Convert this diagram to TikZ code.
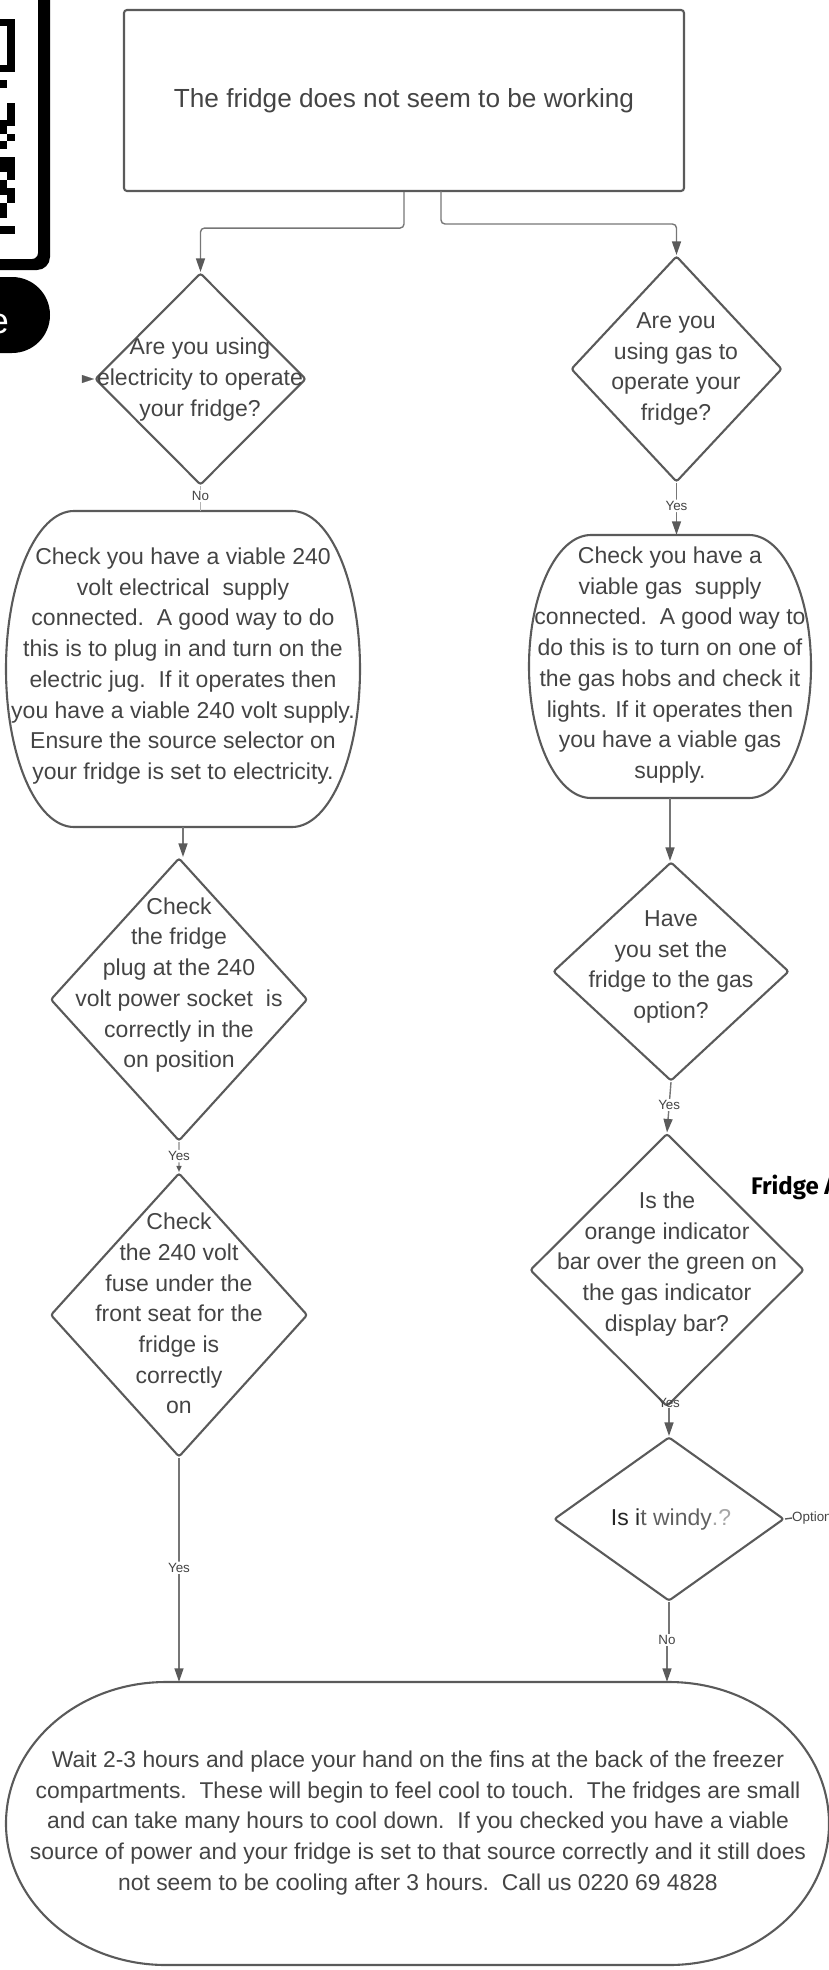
\documentclass[tikz,border=0pt]{standalone}
\usepackage{fontspec}
\setmainfont{Liberation Sans}
\newfontfamily\fridgefont{Fira Sans}
\usetikzlibrary{shapes.geometric,arrows.meta,calc}
\definecolor{shapeline}{HTML}{5A5A5A}
\definecolor{connline}{HTML}{767676}
\definecolor{bodytext}{HTML}{444444}
\tikzset{
  shapebox/.style={draw=shapeline,line width=2.1pt,rounded corners=3pt,inner sep=0pt},
  dia/.style={diamond,draw=shapeline,line width=2.1pt,rounded corners=2.5pt,inner sep=0pt},
  body/.style={text=bodytext,align=center,inner sep=0pt,font=\fontsize{23}{30.7}\selectfont},
  lab/.style={text=bodytext,fill=white,inner sep=1.5pt,font=\fontsize{13.4}{15}\selectfont},
  conn/.style={draw=connline,line width=1.4pt,rounded corners=4pt,-{Triangle[length=13.5pt,width=9pt,color=shapeline]}},
  plainconn/.style={draw=connline,line width=1.4pt},
  ink/.style={fill=black,draw=none},
}
\newcommand{\oblong}[6]{%
  \pgfmathsetmacro{\xl}{#2}\pgfmathsetmacro{\yt}{#3}\pgfmathsetmacro{\xr}{#4}\pgfmathsetmacro{\yb}{#5}\pgfmathsetmacro{\rx}{#6}%
  \pgfmathsetmacro{\ym}{(\yt+\yb)/2}\pgfmathsetmacro{\xc}{(\xl+\xr)/2}%
  \pgfmathsetmacro{\kx}{0.4477*\rx}\pgfmathsetmacro{\ky}{0.4477*(\yb-\yt)/2}%
  \node[minimum width={(\xr-\xl)*1pt},minimum height={(\yb-\yt)*1pt},inner sep=0pt] (#1) at (\xc,\ym) {};
  \draw[draw=shapeline,line width=2.1pt]
    ({\xl+\rx},\yt) -- ({\xr-\rx},\yt)
    .. controls ({\xr-\kx},\yt) and (\xr,{\yt+\ky}) .. (\xr,\ym)
    .. controls (\xr,{\yb-\ky}) and ({\xr-\kx},\yb) .. ({\xr-\rx},\yb)
    -- ({\xl+\rx},\yb)
    .. controls ({\xl+\kx},\yb) and (\xl,{\yb-\ky}) .. (\xl,\ym)
    .. controls (\xl,{\yt+\ky}) and ({\xl+\kx},\yt) .. ({\xl+\rx},\yt) -- cycle;
}
\begin{document}
\begin{tikzpicture}[x=1pt,y=-1pt]
\useasboundingbox (0,0) rectangle (829,1970);
\clip (0,0) rectangle (829,1970);

% cut-off QR card
\fill[ink,even odd rule,rounded corners=0pt]
  (-20,-20) [rounded corners=13pt] -- (50,-20) -- (50,270) -- (-20,270) [sharp corners] -- cycle
  (-30,-10) [rounded corners=6pt] -- (38,-10) -- (38,259) -- (-30,259) [sharp corners] -- cycle;
\fill[white] (-30,-10) rectangle (38,-20);
\fill[ink] (38,-20) rectangle (50,-1);
\begin{scope}[ink]
  \fill (0,19) rectangle (15,72);
  \fill[white] (0,26) rectangle (7,65);
  \fill (0,80) rectangle (7,88);
  \fill (7,103) rectangle (15,126);
  \fill (0,120) rectangle (15,126);
  \fill (0,126) rectangle (7,134);
  \fill (7,134) rectangle (15,141);
  \fill (0,141) rectangle (7,149);
  \fill (0,157) rectangle (15,172);
  \fill (7,172) rectangle (15,180);
  \fill (0,180) rectangle (7,188);
  \fill (7,188) rectangle (15,203);
  \fill (0,188) rectangle (7,195);
  \fill (0,203) rectangle (7,218);
  \fill (0,226) rectangle (15,234);
\end{scope}
\fill[ink,rounded corners=37.9pt] (-60,277) rectangle (50,353);
\node[text=white,inner sep=0pt,font=\fontsize{36}{36}\selectfont] (cardword) at (-1,324) {e};

% shapes
\node[shapebox,minimum width=560pt,minimum height=181pt] (top) at (404,100.5) {};
\node[body,font=\fontsize{26.2}{30.7}\selectfont] (toptext) at (404,101) {The fridge does not seem to be working};

\node[dia,minimum width=211pt,minimum height=212pt] (dElec) at (200.5,379) {};
\node[dia,minimum width=211pt,minimum height=226pt] (dGas) at (676.5,369) {};
\oblong{bElec}{6}{511}{360}{827}{68}
\oblong{bGas}{529}{535}{811}{798}{62}
\node[dia,minimum width=257pt,minimum height=283pt] (dPlug) at (179,999.5) {};
\node[dia,minimum width=257pt,minimum height=284pt] (dFuse) at (179,1315) {};
\node[dia,minimum width=236pt,minimum height=219pt] (dOpt) at (671,971.5) {};
\node[dia,minimum width=274pt,minimum height=273pt] (dBar) at (667,1270) {};
\node[dia,minimum width=230pt,minimum height=164pt] (dWind) at (669,1519) {};
\oblong{bEnd}{6}{1682}{829}{1965}{160}

% texts
\node[body] (tElec) at (200,379.5) {Are you using\\electricity to operate\\your fridge?};
\node[body] (tGas) at (676,369) {Are you\\using gas to\\operate your\\fridge?};
\node[body] (tbElec) at (183,666) {Check you have a viable 240\\volt electrical\ \ supply\\connected.\ \ A good way to do\\this is to plug in and turn on the\\electric jug.\ \ If it operates then\\you have a viable 240 volt supply.\\Ensure the source selector on\\your fridge is set to electricity.};
\node[body] (tbGas) at (670,665) {Check you have a\\viable gas\ \ supply\\connected.\ \ A good way to\\do this is to turn on one of\\the gas hobs and check it\\lights. If it operates then\\you have a viable gas\\supply.};
\node[body] (tPlug) at (179,985) {Check\\the fridge\\plug at the 240\\volt power socket\ \ is\\correctly in the\\on position};
\node[body] (tFuse) at (179,1313.5) {Check\\the 240 volt\\fuse under the\\front seat for the\\fridge is\\correctly\\on};
\node[body] (tOpt) at (671,967) {Have\\you set the\\fridge to the gas\\option?};
\node[body] (tBar) at (667,1264) {Is the\\orange indicator\\bar over the green on\\the gas indicator\\display bar?};
\node[body] (tWind) at (671,1520) {\textcolor{black!85}{Is i}\textcolor{black!62}{t windy}\textcolor{black!35}{.?}};
\node[body,font=\fontsize{22.85}{30.7}\selectfont] (tEnd) at (418,1823) {Wait 2-3 hours and place your hand on the fins at the back of the freezer\\compartments.\ \ These will begin to feel cool to touch.\ \ The fridges are small\\and can take many hours to cool down.\ \ If you checked you have a viable\\source of power and your fridge is set to that source correctly and it still does\\not seem to be cooling after 3 hours.\ \ Call us 0220 69 4828};
\node[anchor=west,text=black,inner sep=0pt,font=\fridgefont\bfseries\fontsize{24}{28}\selectfont] (fridgeword) at (751,1187) {Fridge A};

% connectors
\coordinate (stubL) at (82,379);
\coordinate (topR) at (441,191);
\coordinate (optEnd) at (792,1518);
\draw[conn] (top.south) -- ++(0,36) -| (dElec.north);
\draw[conn] (topR) -- ++(0,33) -| (dGas.north);
\draw[-{Triangle[length=12pt,width=8pt,color=shapeline]},draw=white,line width=.1pt] (stubL) -- (dElec.west);
\draw[plainconn,draw=black!30] (dElec.south) -- (dElec.south |- bElec.north) node[lab,pos=.4] (lNo) {No};
\draw[conn] (dGas.south) -- (dGas.south |- bGas.north) node[lab,pos=.44] (lYes1) {Yes};
\draw[conn] (bElec.south) -- (bElec.south |- dPlug.north);
\draw[conn] (bGas.south) -- (bGas.south |- dOpt.north);
\draw[conn,-{Triangle[length=6pt,width=5pt,color=shapeline]},draw=black!30] (dPlug.south) -- (dFuse.north) node[lab,pos=.47] (lYes2) {Yes};
\draw[conn] (dFuse.south) -- (dFuse.south |- bEnd.north) node[lab,pos=.49] (lYes3) {Yes};
\draw[conn,rounded corners=0pt] (dOpt.south) -- (dBar.north) node[lab,pos=.45] (lYes4) {Yes};
\draw[conn] (dBar.south -| dWind.north) -- (dWind.north);
\node[text=bodytext,inner sep=0pt,font=\fontsize{13.4}{15}\selectfont] (lYes5) at (669,1403) {Yes};
\draw[plainconn,draw=shapeline] (dWind.east) -- (optEnd);
\node[anchor=west,text=bodytext,inner sep=0pt,font=\fontsize{13.4}{15}\selectfont] (lOpt) at (optEnd) {Option};
\coordinate (noMid) at (667,1640);
\draw[conn,rounded corners=0pt] (dWind.south) -- (dWind.south |- noMid) -- (noMid) -- (noMid |- bEnd.north);
\node[lab] (lNo2) at (noMid) {No};
\end{tikzpicture}
\end{document}
